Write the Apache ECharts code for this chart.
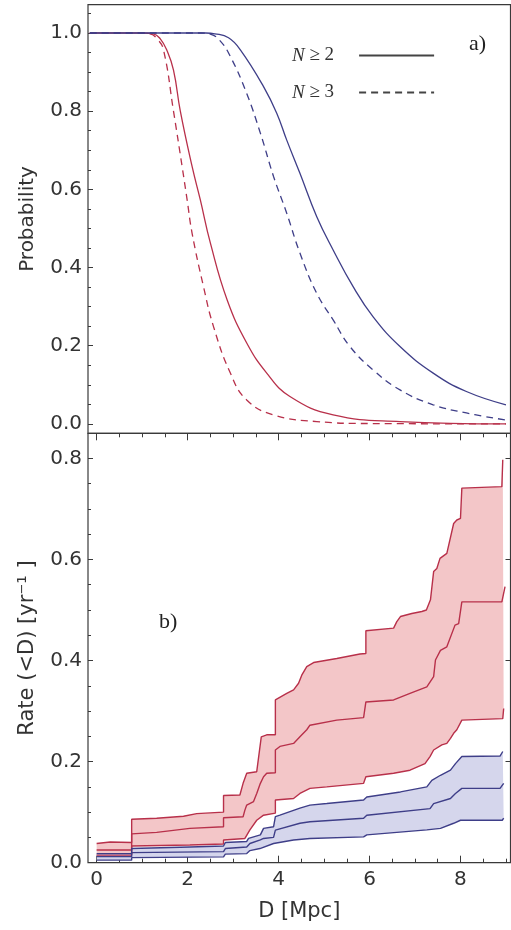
<!DOCTYPE html>
<html>
<head>
<meta charset="utf-8">
<script src="https://cdn.jsdelivr.net/npm/echarts@6/dist/echarts.min.js"></script>
<style>html,body{margin:0;padding:0;background:#fff;}#c{width:511px;height:930px;}</style>
</head>
<body>
<div id="c"></div>
<script>
// ---- Panel a) detection probability vs distance ----
const redSolid = [[-0.15,1],[1.0,1],[1.25,0.998],[1.40,0.985],[1.54,0.957],[1.69,0.905],[1.84,0.80],[2.10,0.658],[2.28,0.573],[2.50,0.463],[2.87,0.317],[3.30,0.207],[3.74,0.130],[4.25,0.070],[5.20,0.023],[6.67,0.006],[9.0,0.0]];
const redDashed = [[-0.15,1],[1.0,1],[1.18,0.998],[1.33,0.985],[1.47,0.957],[1.69,0.80],[1.88,0.658],[1.99,0.573],[2.10,0.487],[2.35,0.351],[2.57,0.249],[2.94,0.130],[3.30,0.061],[3.89,0.023],[4.84,0.006],[6.0,0.001],[9.0,0.0]];
const blueSolid = [[-0.15,1],[2.4,1],[2.6,0.998],[2.9,0.988],[3.16,0.957],[3.67,0.863],[3.96,0.795],[4.18,0.726],[4.47,0.641],[4.84,0.530],[5.20,0.445],[5.64,0.351],[6.08,0.274],[6.67,0.198],[7.40,0.130],[8.13,0.083],[9.0,0.049]];
const blueDashed = [[-0.15,1],[2.3,1],[2.5,0.997],[2.7,0.982],[2.94,0.94],[3.30,0.845],[3.60,0.744],[3.89,0.633],[4.18,0.539],[4.47,0.437],[4.84,0.334],[5.20,0.266],[5.57,0.198],[6.08,0.138],[6.67,0.087],[7.40,0.049],[8.13,0.028],[9.0,0.010]];

// ---- Panel b) cumulative rate bands ----
const redUpper = [[0,0.038],[0.3,0.041],[0.77,0.040],[0.77,0.086],[1.32,0.088],[1.91,0.092],[2.2,0.097],[2.79,0.100],[2.79,0.133],[3.15,0.134],[3.22,0.157],[3.30,0.177],[3.52,0.180],[3.62,0.249],[3.74,0.253],[3.93,0.253],[3.93,0.322],[4.18,0.335],[4.33,0.342],[4.44,0.355],[4.51,0.371],[4.62,0.388],[4.77,0.396],[5.28,0.404],[5.79,0.413],[5.92,0.414],[5.92,0.459],[6.53,0.464],[6.6,0.477],[6.68,0.487],[6.93,0.493],[7.15,0.497],[7.25,0.50],[7.34,0.52],[7.41,0.576],[7.48,0.582],[7.55,0.602],[7.70,0.612],[7.85,0.671],[7.92,0.678],[8.0,0.681],[8.03,0.741],[8.91,0.744],[8.93,0.797]];
const redMid = [[0,0.025],[0.77,0.025],[0.77,0.057],[1.32,0.060],[2.05,0.068],[2.79,0.071],[2.79,0.089],[3.22,0.091],[3.26,0.104],[3.30,0.114],[3.45,0.121],[3.52,0.137],[3.60,0.157],[3.67,0.170],[3.74,0.177],[3.93,0.178],[3.93,0.223],[4.03,0.230],[4.33,0.236],[4.47,0.249],[4.62,0.263],[4.69,0.272],[5.28,0.282],[5.87,0.287],[5.92,0.318],[6.53,0.322],[6.89,0.335],[7.26,0.348],[7.41,0.368],[7.45,0.401],[7.56,0.420],[7.70,0.427],[7.88,0.470],[7.96,0.473],[8.03,0.516],[8.91,0.516],[8.98,0.546]];
const redLower = [[0,0.015],[0.77,0.015],[0.77,0.033],[2.05,0.035],[2.79,0.037],[2.79,0.045],[3.26,0.048],[3.30,0.051],[3.37,0.065],[3.52,0.084],[3.67,0.094],[3.93,0.098],[3.93,0.124],[4.33,0.127],[4.47,0.137],[4.69,0.147],[5.06,0.150],[5.87,0.157],[5.92,0.170],[6.53,0.177],[6.89,0.183],[7.22,0.196],[7.33,0.210],[7.41,0.223],[7.59,0.233],[7.70,0.236],[7.78,0.246],[7.85,0.256],[7.92,0.263],[8.03,0.282],[8.93,0.285],[8.95,0.305]];
const blueUpper = [[0,0.018],[0.77,0.018],[0.77,0.028],[2.05,0.031],[2.79,0.033],[2.83,0.040],[3.30,0.042],[3.34,0.048],[3.60,0.055],[3.67,0.068],[3.89,0.071],[3.93,0.091],[4.03,0.094],[4.47,0.108],[4.69,0.114],[5.06,0.117],[5.87,0.124],[5.94,0.130],[6.68,0.140],[7.26,0.150],[7.37,0.163],[7.56,0.173],[7.78,0.183],[7.89,0.196],[8.03,0.210],[8.87,0.211],[8.93,0.220]];
const blueMid = [[0,0.012],[0.77,0.012],[0.77,0.020],[2.79,0.022],[2.83,0.028],[3.30,0.031],[3.37,0.038],[3.60,0.045],[3.67,0.048],[3.89,0.050],[3.93,0.0645],[4.47,0.078],[4.69,0.081],[5.87,0.088],[5.94,0.094],[7.33,0.107],[7.41,0.117],[7.78,0.127],[7.89,0.137],[8.03,0.147],[8.87,0.147],[8.95,0.157]];
const blueLower = [[0,0.005],[0.77,0.005],[0.77,0.010],[2.79,0.0116],[2.83,0.017],[3.30,0.018],[3.37,0.024],[3.59,0.028],[3.89,0.038],[4.33,0.045],[4.69,0.048],[5.87,0.051],[5.94,0.055],[7.26,0.065],[7.56,0.068],[7.85,0.078],[8.0,0.084],[8.92,0.084],[8.95,0.088]];

// ---- tick values ----
const xMajorTicks = [0,2,4,6,8];
const xMinorTicks = [0.5,1,1.5,2.5,3,3.5,4.5,5,5.5,6.5,7,7.5,8.5,9];
const topYTicks = [0,0.2,0.4,0.6,0.8,1.0];
const topYMinor = [0.05,0.1,0.15,0.25,0.3,0.35,0.45,0.5,0.55,0.65,0.7,0.75,0.85,0.9,0.95,1.05];
const botYTicks = [0,0.2,0.4,0.6,0.8];
const botYMinor = [0.05,0.1,0.15,0.25,0.3,0.35,0.45,0.5,0.55,0.65,0.7,0.75];
const legendNames = ['N ≥ 2','N ≥ 3'];

const RED = '#b8304a', BLUE = '#3e3e88';
const RED_FILL = '#f3c6c8', BLUE_FILL = '#d5d6ec';
const FRAME = '#3a3a3a', TXT = '#333';
const SANS = 'DejaVu Sans';
const X_MIN = -0.19, X_MAX = 9.1;
const TOP_MIN = -0.024, TOP_MAX = 1.0724;
const BOT_MIN = 0, BOT_MAX = 0.8495;

function xAxisBase(grid, pos) {
  return { type:'value', gridIndex:grid, position:pos, min:X_MIN, max:X_MAX,
    axisLine:{show:false, onZero:false}, splitLine:{show:false},
    axisLabel:{show:false}, axisTick:{show:false} };
}
function yAxisBase(grid, pos, mn, mx) {
  return { type:'value', gridIndex:grid, position:pos, min:mn, max:mx,
    axisLine:{show:false, onZero:false}, splitLine:{show:false},
    axisLabel:{show:false}, axisTick:{show:false} };
}
function ticks(vals, len) {
  return { show:true, inside:true, length:len, customValues:vals, lineStyle:{color:FRAME, width:1} };
}
const labelStyle = { fontFamily:SANS, fontSize:20, color:TXT };

const xAxes = [
  xAxisBase(0,'bottom'),
  Object.assign(xAxisBase(1,'bottom'), {
    axisTick: ticks(xMajorTicks, 7),
    axisLabel: Object.assign({show:true, margin:7, customValues:xMajorTicks, formatter:v=>String(v)}, labelStyle),
    name:'D [Mpc]', nameLocation:'middle', nameGap:38,
    nameTextStyle:{fontFamily:SANS, fontSize:21, color:TXT}
  }),
  Object.assign(xAxisBase(1,'bottom'), { axisTick: ticks(xMinorTicks, 4) }),
  Object.assign(xAxisBase(1,'top'), { axisTick: ticks(xMajorTicks, 7) }),
  Object.assign(xAxisBase(1,'top'), { axisTick: ticks(xMinorTicks, 4) })
];
const yAxes = [
  Object.assign(yAxisBase(0,'left',TOP_MIN,TOP_MAX), {
    axisTick: ticks(topYTicks, 5),
    axisLabel: Object.assign({show:true, margin:6, customValues:topYTicks, formatter:v=>v.toFixed(1)}, labelStyle),
    name:'Probability', nameLocation:'middle', nameGap:50, nameRotate:90,
    nameTextStyle:{fontFamily:SANS, fontSize:20, color:TXT}
  }),
  Object.assign(yAxisBase(0,'left',TOP_MIN,TOP_MAX), { axisTick: ticks(topYMinor, 3) }),
  Object.assign(yAxisBase(1,'left',BOT_MIN,BOT_MAX), {
    axisTick: ticks(botYTicks, 5),
    axisLabel: Object.assign({show:true, margin:6, customValues:botYTicks, formatter:v=>v.toFixed(1)}, labelStyle),
    name:'Rate (<D) [yr⁻¹ ]', nameLocation:'middle', nameGap:50, nameRotate:90,
    nameTextStyle:{fontFamily:SANS, fontSize:21, color:TXT}
  }),
  Object.assign(yAxisBase(1,'left',BOT_MIN,BOT_MAX), { axisTick: ticks(botYMinor, 3) }),
  Object.assign(yAxisBase(1,'right',BOT_MIN,BOT_MAX), { axisTick: ticks(botYTicks, 5) })
];

function curve(data, color, dashed, yi) {
  return { type:'line', xAxisIndex:0, yAxisIndex:yi, data:data, symbol:'none', showSymbol:false,
    smooth:0.45, z:3, silent:true,
    lineStyle:{color:color, width:1.3, type: dashed ? [7,5] : 'solid'} };
}
function step(data, color) {
  return { type:'line', xAxisIndex:1, yAxisIndex:2, data:data, symbol:'none', showSymbol:false,
    z:4, silent:true, lineStyle:{color:color, width:1.4} };
}
function band(upper, lower, color) {
  const poly = upper.concat(lower.slice().reverse());
  return { type:'custom', xAxisIndex:1, yAxisIndex:2, z:1, silent:true, clip:true,
    data: poly,
    renderItem: function (params, api) {
      if (params.dataIndex !== 0) return null;
      return { type:'polygon', shape:{ points: poly.map(p => api.coord(p)) }, style:{ fill: color } };
    } };
}

const option = {
  animation:false,
  backgroundColor:'#fff',
  grid:[
    {left:88, top:4.7, width:422.5, height:428.6, show:true, borderColor:FRAME, borderWidth:1.2, backgroundColor:'transparent', outerBoundsMode:'none', containLabel:false},
    {left:88, top:433.3, width:422.5, height:429.4, show:true, borderColor:FRAME, borderWidth:1.2, backgroundColor:'transparent', outerBoundsMode:'none', containLabel:false}
  ],
  title:[
    {text:'a)', left:464, top:28, textStyle:{fontFamily:'Liberation Serif', fontSize:22, fontWeight:'normal', color:'#222'}},
    {text:'b)', left:154, top:606, textStyle:{fontFamily:'Liberation Serif', fontSize:22, fontWeight:'normal', color:'#222'}}
  ],
  legend:{
    data: legendNames, orient:'vertical', left:287, top:41, align:'right',
    itemWidth:75, itemHeight:14, itemGap:18, selectedMode:false,
    itemStyle:{opacity:0},
    formatter: n => '{i|N}' + n.slice(1),
    textStyle:{fontFamily:'Liberation Serif', fontSize:19, color:'#333', padding:[0,20,0,0],
      rich:{ i:{fontFamily:'Liberation Serif', fontStyle:'italic', fontSize:19, color:'#333'} } }
  },
  xAxis: xAxes,
  yAxis: yAxes,
  series: [
    curve(redSolid, RED, false, 0),
    curve(redDashed, RED, true, 0),
    curve(blueSolid, BLUE, false, 0),
    curve(blueDashed, BLUE, true, 0),
    { name:legendNames[0], type:'line', xAxisIndex:0, yAxisIndex:0, data:[], symbol:'none', symbolSize:0, lineStyle:{color:'#444', width:1.3}, itemStyle:{color:'#444'} },
    { name:legendNames[1], type:'line', xAxisIndex:0, yAxisIndex:0, data:[], symbol:'none', symbolSize:0, lineStyle:{color:'#444', width:1.3, type:[7,5]}, itemStyle:{color:'#444'} },
    band(redUpper, redLower, RED_FILL),
    band(blueUpper, blueLower, BLUE_FILL),
    step(redUpper, RED), step(redMid, RED), step(redLower, RED),
    step(blueUpper, BLUE), step(blueMid, BLUE), step(blueLower, BLUE)
  ]
};
const chart = echarts.init(document.getElementById('c'), null, {renderer:'canvas'});
chart.setOption(option);
</script>
</body>
</html>
